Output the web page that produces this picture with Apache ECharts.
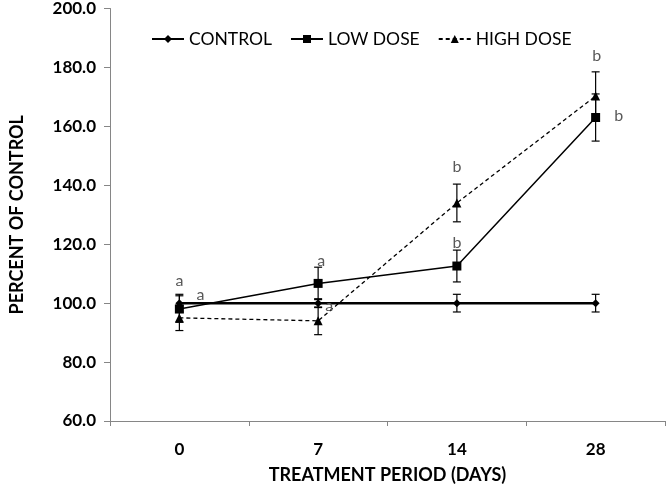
<!DOCTYPE html>
<html>
<head>
<meta charset="utf-8">
<script src="https://cdn.jsdelivr.net/npm/echarts@6/dist/echarts.min.js"></script>
<style>
  html, body { margin: 0; padding: 0; background: #fff; }
  #main { width: 666px; height: 489px; }
</style>
</head>
<body>
<div id="main"></div>
<script>
var days = ['0', '7', '14', '28'];
var yTicks = [60, 80, 100, 120, 140, 160, 180, 200];

var control = [100, 100, 100, 100];
var controlErr = [3, 1.5, 3, 3];
var lowDose = [98, 106.7, 112.6, 163];
var lowDoseErr = [4.5, 5.5, 5.4, 8];
var highDose = [95, 94, 134, 170.3];
var highDoseErr = [4.3, 4.7, 6.4, 8.2];

// significance letters: [day index, y value, letter]
var letters = [
  [0, 107.4, 'a'], [0, 102.7, 'a'],
  [1, 114.2, 'a'], [1, 99.0, 'a'],
  [2, 146.2, 'b'], [2, 120.6, 'b'],
  [3, 184.0, 'b'], [3, 163.7, 'b']
];
var letterShift = [0, 21, 3, 11, 0, 0, 1, 23];

var font = 'Lato, "Open Sans", sans-serif';

function errData(vals, errs) {
  return vals.map(function (v, i) { return [i, v - errs[i], v + errs[i]]; });
}

function errorBars(vals, errs) {
  return {
    type: 'custom',
    silent: true,
    z: 5,
    data: errData(vals, errs),
    renderItem: function (params, api) {
      var lo = api.coord([api.value(0), api.value(1)]);
      var hi = api.coord([api.value(0), api.value(2)]);
      var w = 4;
      var st = { stroke: '#000', lineWidth: 1.2 };
      return {
        type: 'group',
        children: [
          { type: 'line', shape: { x1: lo[0], y1: lo[1], x2: hi[0], y2: hi[1] }, style: st },
          { type: 'line', shape: { x1: lo[0] - w, y1: lo[1], x2: lo[0] + w, y2: lo[1] }, style: st },
          { type: 'line', shape: { x1: hi[0] - w, y1: hi[1], x2: hi[0] + w, y2: hi[1] }, style: st }
        ]
      };
    }
  };
}

var chart = echarts.init(document.getElementById('main'));
var option = {
  animation: false,
  textStyle: { fontFamily: font },
  grid: { left: 106, right: 1, top: 7.5, bottom: 66 },
  legend: {
    top: 25,
    left: 146,
    itemWidth: 32,
    itemHeight: 10,
    itemGap: 18,
    textStyle: { fontSize: 17.5, color: '#000', fontFamily: font },
    data: ['CONTROL', 'LOW DOSE', 'HIGH DOSE']
  },
  xAxis: {
    type: 'category',
    data: days,
    boundaryGap: true,
    name: 'TREATMENT PERIOD (DAYS)',
    nameLocation: 'middle',
    nameGap: 45,
    nameTextStyle: { fontSize: 18, fontWeight: 'bold', color: '#000', fontFamily: font },
    axisLine: { lineStyle: { color: '#868686', width: 1 } },
    axisTick: { show: true, length: 5, lineStyle: { color: '#868686' } },
    axisLabel: { fontSize: 17, color: '#000', fontWeight: 'bold', margin: 20 },
    splitLine: { show: false }
  },
  yAxis: {
    type: 'value',
    min: yTicks[0],
    max: yTicks[yTicks.length - 1],
    interval: 20,
    name: 'PERCENT OF CONTROL',
    nameLocation: 'middle',
    nameGap: 84,
    nameTextStyle: { fontSize: 18, fontWeight: 'bold', color: '#000', fontFamily: font },
    axisLine: { show: true, lineStyle: { color: '#868686', width: 1 } },
    axisTick: { show: true, length: 6, lineStyle: { color: '#868686' } },
    axisLabel: {
      fontSize: 17, color: '#000', fontWeight: 'bold', margin: 14,
      formatter: function (v) { return v.toFixed(1); }
    },
    splitLine: { show: false }
  },
  series: [
    {
      name: 'CONTROL', type: 'line', data: control, z: 4,
      symbol: 'diamond', symbolSize: 8,
      lineStyle: { color: '#000', width: 2.5 },
      itemStyle: { color: '#000' }
    },
    {
      name: 'LOW DOSE', type: 'line', data: lowDose, z: 4,
      symbol: 'rect', symbolSize: 9,
      lineStyle: { color: '#000', width: 1.5 },
      itemStyle: { color: '#000' }
    },
    {
      name: 'HIGH DOSE', type: 'line', data: highDose, z: 4,
      symbol: 'triangle', symbolSize: 9,
      lineStyle: { color: '#000', width: 1.3, type: [4, 3] },
      itemStyle: { color: '#000' }
    },
    errorBars(control, controlErr),
    errorBars(lowDose, lowDoseErr),
    errorBars(highDose, highDoseErr),
    {
      type: 'custom',
      silent: true,
      z: 6,
      data: letters,
      renderItem: function (params, api) {
        var p = api.coord([api.value(0), api.value(1)]);
        return {
          type: 'text',
          x: p[0] + letterShift[params.dataIndex],
          y: p[1],
          style: {
            text: letters[params.dataIndex][2],
            fill: '#595959',
            font: '16px ' + font,
            align: 'center',
            verticalAlign: 'middle'
          }
        };
      }
    }
  ]
};
chart.setOption(option);
</script>
</body>
</html>
